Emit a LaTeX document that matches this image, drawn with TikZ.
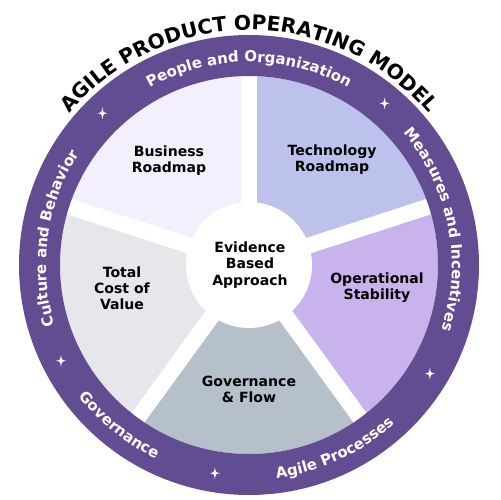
\documentclass[tikz,border=0pt]{standalone}
\usepackage{fontspec}
\setmainfont{DejaVu Sans}
\usetikzlibrary{decorations.text}
\definecolor{ringpurple}{HTML}{624D93}
\definecolor{bizfill}{HTML}{F4EFFC}
\definecolor{techfill}{HTML}{BDC2EC}
\definecolor{opsfill}{HTML}{C8B3EC}
\definecolor{costfill}{HTML}{E6E7EB}
\definecolor{govfill}{HTML}{B6C0CA}
\begin{document}
\begin{tikzpicture}[x=0.02cm,y=0.02cm,
    lbl/.style={font=\bfseries\fontsize{8}{9.2}\selectfont,align=center,inner sep=0pt},
    gap/.style={white,line width=0.32cm},
    ringtext/.style={decorate,decoration={text along path,text align=center,
        text color=white,text={|\bfseries\fontsize{8.5}{10}\selectfont|#1}}},
    titletext/.style={decorate,decoration={text along path,text align=center,
        text={|\bfseries\fontsize{11.5}{13}\selectfont|#1}}},
    sparkle/.pic={\fill[white] (0,6) .. controls (0.8,0.8) .. (5,0)
        .. controls (0.8,-0.8) .. (0,-6) .. controls (-0.8,-0.8) .. (-5,0)
        .. controls (-0.8,0.8) .. (0,6) -- cycle;}]
  \useasboundingbox (-249,-235) rectangle (251,265);
  \fill[techfill] (0,0) -- (18:189) arc[start angle=18,end angle=90,radius=189] -- cycle;
  \fill[bizfill] (0,0) -- (90:189) arc[start angle=90,end angle=162,radius=189] -- cycle;
  \fill[costfill] (0,0) -- (162:189) arc[start angle=162,end angle=234,radius=189] -- cycle;
  \fill[govfill] (0,0) -- (234:189) arc[start angle=234,end angle=306,radius=189] -- cycle;
  \fill[opsfill] (0,0) -- (306:189) arc[start angle=306,end angle=378,radius=189] -- cycle;
  \foreach \a in {18,90,162,234,306}
    \draw[gap] (0,0) -- (\a:190);
  \fill[white] (0,0) circle[radius=63];
  \draw[ringpurple,line width=0.82cm] (0,0) circle[radius=209.5];
  \foreach \a in {134,50,207,260.7,-31}
    \pic at (\a:211) {sparkle};
  \node[lbl] (ev) at (1,0) {Evidence\\Based\\Approach};
  \node[lbl] (biz) at (-80,104) {Business\\Roadmap};
  \node[lbl] (tech) at (83,105) {Technology\\Roadmap};
  \node[lbl] (ops) at (128,-23) {Operational\\Stability};
  \node[lbl] (cost) at (-127,-23) {Total\\Cost of\\Value};
  \node[lbl] (gov) at (0,-124) {Governance\\\& Flow};
  \path[titletext={AGILE PRODUCT OPERATING MODEL}]
    (160:235) arc[start angle=160,end angle=20,radius=235];
  \path[ringtext={People and Organization}]
    (140:203) arc[start angle=140,end angle=40,radius=203];
  \path[ringtext={Measures and Incentives}]
    (61:203) arc[start angle=61,end angle=-39,radius=203];
  \path[ringtext={Culture and Behavior}]
    (222:203) arc[start angle=222,end angle=122,radius=203];
  \path[ringtext={Governance}]
    (191:215) arc[start angle=191,end angle=271,radius=215];
  \path[ringtext={Agile Processes}]
    (255:215) arc[start angle=255,end angle=335,radius=215];
\end{tikzpicture}
\end{document}
